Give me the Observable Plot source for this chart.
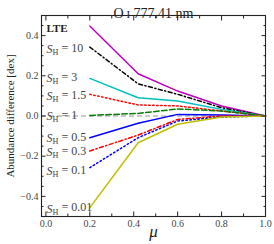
<!DOCTYPE html>
<html><head><meta charset="utf-8">
<script src="https://cdn.jsdelivr.net/npm/d3@7"></script>
<script src="https://cdn.jsdelivr.net/npm/@observablehq/plot@0.6"></script>
<style>body{margin:0;background:#fff}</style>
</head><body><div id="chart"></div>
<script>
// ---- data ----
const mu = [0.2, 0.42, 0.6, 0.8, 1.0];
const sLTE = [0.448, 0.21, 0.124, 0.05, 0];
const s10  = [0.343, 0.16, 0.108, 0.041, 0];
const s3   = [0.187, 0.091, 0.075, 0.033, 0];
const s15  = [0.108, 0.055, 0.05, 0.025, 0];
const s1   = [0.003, 0.013, 0.035, 0.025, 0];
const s05  = [-0.108, -0.036, 0.008, 0.005, 0];
const s03  = [-0.174, -0.095, -0.017, 0.0, 0];
const s01  = [-0.257, -0.108, -0.025, -0.005, 0];
const s001 = [-0.456, -0.133, -0.041, -0.005, 0];
const seriesValues = [sLTE, s10, s3, s15, s1, s05, s03, s01, s001];
const seriesNames = ["LTE", "S_H = 10", "S_H = 3", "S_H = 1.5", "S_H = 1", "S_H = 0.5", "S_H = 0.3", "S_H = 0.1", "S_H = 0.01"];
const labelY = [0.434, 0.333, 0.19, 0.10, 0.0, -0.11, -0.178, -0.274, -0.461];
const xTicks = [0, 0.2, 0.4, 0.6, 0.8, 1.0];
const xMinor = [0.1, 0.3, 0.5, 0.7, 0.9];
const yTicks = [-0.4, -0.2, 0, 0.2, 0.4];
const yMinor = [-0.45, -0.35, -0.3, -0.25, -0.15, -0.1, -0.05, 0.05, 0.1, 0.15, 0.25, 0.3, 0.35, 0.45];
const title = "O I 777.41 nm";
const yLabel = "Abundance difference [dex]";
const xLabel = "μ";

// ---- styles ----
const colors = ["#bf00bf", "#000000", "#00bfbf", "#ff0000", "#008000", "#0000ff", "#ff0000", "#0000ff", "#bfbf00"];
const dashes = [null, "4,2.5,1.2,2.5", null, "1.5,2.5", "5.5,2.5", null, "4,2.5,1.2,2.5", "1.5,2.5", null];

const rows = seriesNames.map((name, i) => mu.map((m, j) => ({mu: m, v: seriesValues[i][j], name})));
const labelRows = seriesNames.map((name, i) => ({name, y: labelY[i]}));

const tickCol = "#222";
const marks = [
  Plot.ruleY([0], {stroke: "#888", strokeWidth: 0.9, strokeDasharray: "5,3"}),
  ...rows.map((r, i) => Plot.line(r, {x: "mu", y: "v", stroke: colors[i], strokeWidth: 1.5,
      strokeDasharray: dashes[i] || undefined})),
  Plot.text(labelRows.slice(0, 1), {y: "y", text: "name", frameAnchor: "left", dx: 5, textAnchor: "start",
      fontWeight: "bold", fontSize: 11, fill: "#222"}),
  Plot.text(labelRows.slice(1), {y: "y", text: "name", frameAnchor: "left", dx: 5, textAnchor: "start",
      fontSize: 12, fill: "#444"}),
  Plot.frame({stroke: tickCol, strokeWidth: 1.1}),
  // tick labels
  Plot.axisX(xTicks, {anchor: "bottom", tickSize: 0, tickPadding: 3, tickFormat: d3.format(".1f"), fontSize: 10, fill: "#444", label: null}),
  Plot.axisY(yTicks, {anchor: "left", tickSize: 0, tickPadding: 3, tickFormat: d3.format(".1f"), fontSize: 10, fill: "#444", label: null}),
  // inward major ticks
  Plot.axisX(xTicks, {anchor: "bottom", tickSize: 4.5, dy: -4.5, fill: "none", stroke: tickCol, label: null}),
  Plot.axisX(xTicks, {anchor: "top", tickSize: 4.5, dy: 4.5, fill: "none", stroke: tickCol, label: null}),
  Plot.axisY(yTicks, {anchor: "left", tickSize: 4.5, dx: 4.5, fill: "none", stroke: tickCol, label: null}),
  Plot.axisY(yTicks, {anchor: "right", tickSize: 4.5, dx: -4.5, fill: "none", stroke: tickCol, label: null}),
  // inward minor ticks
  Plot.axisX(xMinor, {anchor: "bottom", tickSize: 2.5, dy: -2.5, fill: "none", stroke: tickCol, label: null}),
  Plot.axisX(xMinor, {anchor: "top", tickSize: 2.5, dy: 2.5, fill: "none", stroke: tickCol, label: null}),
  Plot.axisY(yMinor, {anchor: "left", tickSize: 2.5, dx: 2.5, fill: "none", stroke: tickCol, label: null}),
  Plot.axisY(yMinor, {anchor: "right", tickSize: 2.5, dx: -2.5, fill: "none", stroke: tickCol, label: null}),
  // titles
  Plot.text([title], {text: d => d, frameAnchor: "top", dy: -7, fontSize: 14, fill: "#222"}),
  Plot.text([yLabel], {text: d => d, frameAnchor: "left", textAnchor: "middle", dx: -31, rotate: -90, fontSize: 11, fill: "#222"}),
  Plot.text([xLabel], {text: d => d, frameAnchor: "bottom", dy: 20, fontSize: 17, fontStyle: "italic", fill: "#222"})
];

const chart = Plot.plot({
  width: 274, height: 244,
  marginLeft: 41, marginRight: 9, marginTop: 15, marginBottom: 28,
  x: {domain: [-0.02, 1.0]},
  y: {domain: [-0.5, 0.5]},
  style: {fontFamily: "'Liberation Serif', serif", background: "#fff", overflow: "visible"},
  marks
});

// subscript formatting for S_H labels and small-caps ion stage in the title
d3.select(chart).selectAll("text").each(function () {
  const el = d3.select(this);
  const t = el.text();
  if (t.startsWith("S_H")) {
    const rest = t.slice(3);
    el.text(null);
    el.append("tspan").attr("font-style", "italic").text("S");
    el.append("tspan").attr("font-size", "0.68em").attr("dy", "0.28em").text("H");
    el.append("tspan").attr("dy", "-0.28em").text(rest);
  } else if (t === title) {
    el.text(null);
    el.append("tspan").text("O\u2009");
    el.append("tspan").attr("font-size", "0.78em").text("I");
    el.append("tspan").text(" " + title.slice(4));
  }
});
document.getElementById("chart").appendChild(chart);
</script>
</body></html>
